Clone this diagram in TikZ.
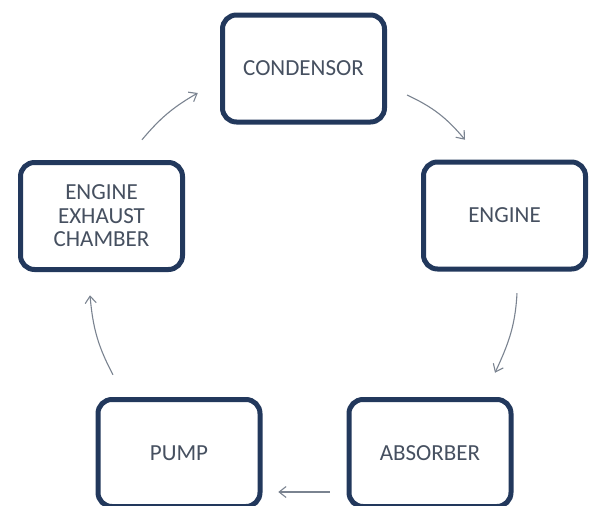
\documentclass[tikz,border=0pt]{standalone}
\usepackage{fontspec}
\setmainfont{Carlito}
\usetikzlibrary{arrows.meta,calc}
\definecolor{boxline}{HTML}{22385C}
\definecolor{boxtext}{HTML}{465060}
\definecolor{arrowgray}{HTML}{7A8390}
\tikzset{
  stagebox/.style={draw=boxline, line width=5pt, rounded corners=14pt, fill=white,
    minimum width=162pt, minimum height=107pt, align=center, text=boxtext,
    font=\fontsize{23}{23.5}\selectfont},
  flowarrow/.style={draw=arrowgray, line width=1.1pt, -{Straight Barb[length=7pt,width=11pt]}}
}
\begin{document}
\begin{tikzpicture}[x=1pt,y=-1pt]
\useasboundingbox (0,0) rectangle (590,506);
\node[stagebox] (cond) at (303.5,68.5) {CONDENSOR};
\node[stagebox] (engine) at (504.5,215.5) {ENGINE};
\node[stagebox] (exhaust) at (101.5,216) {ENGINE\\EXHAUST\\CHAMBER};
\node[stagebox] (pump) at (179,453) {PUMP};
\node[stagebox] (absorber) at (430,453) {ABSORBER};

\draw[flowarrow] ($(cond.east)+(20,26.5)$) to[out=-25,in=130] ($(engine.north)+(-39.5,-19.75)$);
\draw[flowarrow] ($(engine.south)+(12.5,21.75)$) to[out=-93,in=65] ($(absorber.north)+(65,-24.25)$);
\draw[flowarrow] ($(absorber.west)+(-16.75,39)$) -- ($(pump.east)+(15.75,39)$);
\draw[flowarrow] ($(pump.north)+(-66,-22.25)$) to[out=118,in=-85] ($(exhaust.south)+(-11.5,23.25)$);
\draw[flowarrow] ($(exhaust.north)+(40.5,-20.25)$) to[out=50,in=-150] ($(cond.west)+(-22.25,24.5)$);
\end{tikzpicture}
\end{document}
